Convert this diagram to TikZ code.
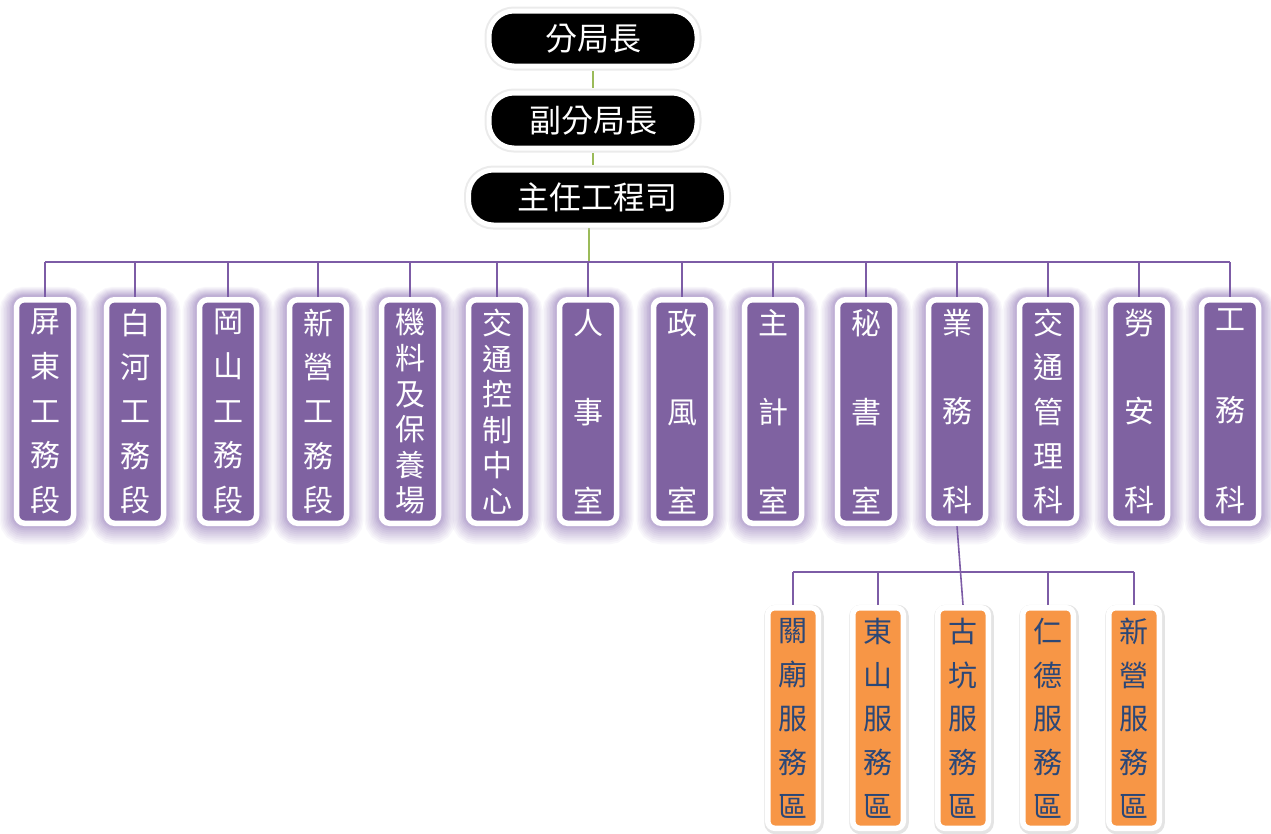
\documentclass[tikz,border=0pt]{standalone}
\usepackage{fontspec}
\newfontfamily\cjk{Noto Sans CJK TC}
\usetikzlibrary{backgrounds}

\definecolor{deptpurple}{HTML}{7F62A1}
\definecolor{glowpurple}{HTML}{7B5CA8}
\definecolor{buspurple}{HTML}{7D5CA6}
\definecolor{stemgreen}{HTML}{9BBB59}
\definecolor{stationorange}{HTML}{F79646}
\definecolor{stationtext}{HTML}{2B4777}

% vertical label: characters spread over a fixed height
\newcommand\vlabel[2]{\parbox[c][#1][s]{40pt}{%
  \foreach \onechar [count=\k] in #2 {\ifnum\k>1 \vfill\fi\hbox to 40pt{\hss\onechar\hss}}}}

\tikzset{
  head/.style={fill=black, draw=white, line width=5pt, rounded corners=25pt,
    minimum height=55pt, inner sep=0pt, text=white,
    font=\cjk\fontsize{32}{32}\selectfont,
    preaction={draw=black!20, line width=9pt, opacity=.4}},
  dept/.style={fill=deptpurple, draw=white, line width=5.5pt, rounded corners=8pt,
    minimum width=57pt, minimum height=223.5pt, inner sep=0pt, text=white,
    font=\cjk\fontsize{30}{30}\selectfont,
    preaction={draw=glowpurple, line width=34pt, opacity=.05, transform canvas={yshift=-4pt}},
    preaction={draw=glowpurple, line width=31pt, opacity=.05, transform canvas={yshift=-3.5pt}},
    preaction={draw=glowpurple, line width=28pt, opacity=.06, transform canvas={yshift=-3pt}},
    preaction={draw=glowpurple, line width=25pt, opacity=.06, transform canvas={yshift=-2.5pt}},
    preaction={draw=glowpurple, line width=22pt, opacity=.07, transform canvas={yshift=-2pt}},
    preaction={draw=glowpurple, line width=19pt, opacity=.07, transform canvas={yshift=-1.5pt}},
    preaction={draw=glowpurple, line width=16pt, opacity=.08, transform canvas={yshift=-1pt}},
    preaction={draw=glowpurple, line width=13pt, opacity=.09, transform canvas={yshift=-.5pt}},
    preaction={draw=glowpurple, line width=10pt, opacity=.1}},
  station/.style={fill=stationorange, draw=white, line width=5.5pt, rounded corners=7pt,
    minimum width=50.5pt, minimum height=220.5pt, inner sep=0pt, text=stationtext,
    font=\cjk\fontsize{29}{29}\selectfont,
    preaction={draw=black!30, line width=9pt, opacity=.35, transform canvas={xshift=1pt,yshift=-1.5pt}}},
  branch/.style={draw=buspurple, line width=1.6pt},
  stem/.style={draw=stemgreen, line width=1.6pt},
}

\begin{document}
\begin{tikzpicture}[x=1pt,y=-1pt]
  \useasboundingbox (0,0) rectangle (1271,833);

  % heads
  \node[head, minimum width=208pt] (chief) at (593,38.5) {分局長};
  \node[head, minimum width=208pt] (deputy) at (593,120.5) {副分局長};
  \node[head, minimum width=258pt] (engineer) at (597.5,197.5) {主任工程司};

  % departments
  \foreach \x/\lbl [count=\i] in {45/{屏,東,工,務,段}, 135/{白,河,工,務,段},
      228/{岡,山,工,務,段}, 318/{新,營,工,務,段}, 410/{機,料,及,保,養,場},
      497/{交,通,控,制,中,心}, 588/{人,事,室}, 682/{政,風,室}, 773/{主,計,室},
      866/{秘,書,室}, 957/{業,務,科}, 1048/{交,通,管,理,科}, 1139/{勞,安,科},
      1230/{工,務,科}}
    \node[dept] (d\i) at (\x,411.5) {\vlabel{203pt}{\lbl}};

  % service areas
  \foreach \x/\lbl [count=\i] in {793/{關,廟,服,務,區}, 878/{東,山,服,務,區},
      963/{古,坑,服,務,區}, 1048/{仁,德,服,務,區}, 1134/{新,營,服,務,區}}
    \node[station] (s\i) at (\x,718) {\vlabel{199pt}{\lbl}};

  \draw[stem, shorten <=2.5pt, shorten >=2.5pt] (chief.south) -- (deputy.north);
  \draw[stem, shorten <=2.5pt, shorten >=2.5pt] (deputy.south) -- (deputy.south |- engineer.north);

  \begin{pgfonlayer}{background}
    \coordinate (bus) at (589,262);
    \coordinate (subbus) at (963,572);
    \draw[stem] (engineer.south -| bus) -- (bus);
    \draw[branch] (d1.north |- bus) -- (d14.north |- bus);
    \foreach \i in {1,...,14}
      \draw[branch] (d\i.north |- bus) -- (d\i.north);
    \draw[branch] (d11.south) -- (s3.north);
    \draw[branch] (s1.north |- subbus) -- (s5.north |- subbus);
    \foreach \i in {1,2,4,5}
      \draw[branch] (s\i.north |- subbus) -- (s\i.north);
  \end{pgfonlayer}
\end{tikzpicture}
\end{document}
